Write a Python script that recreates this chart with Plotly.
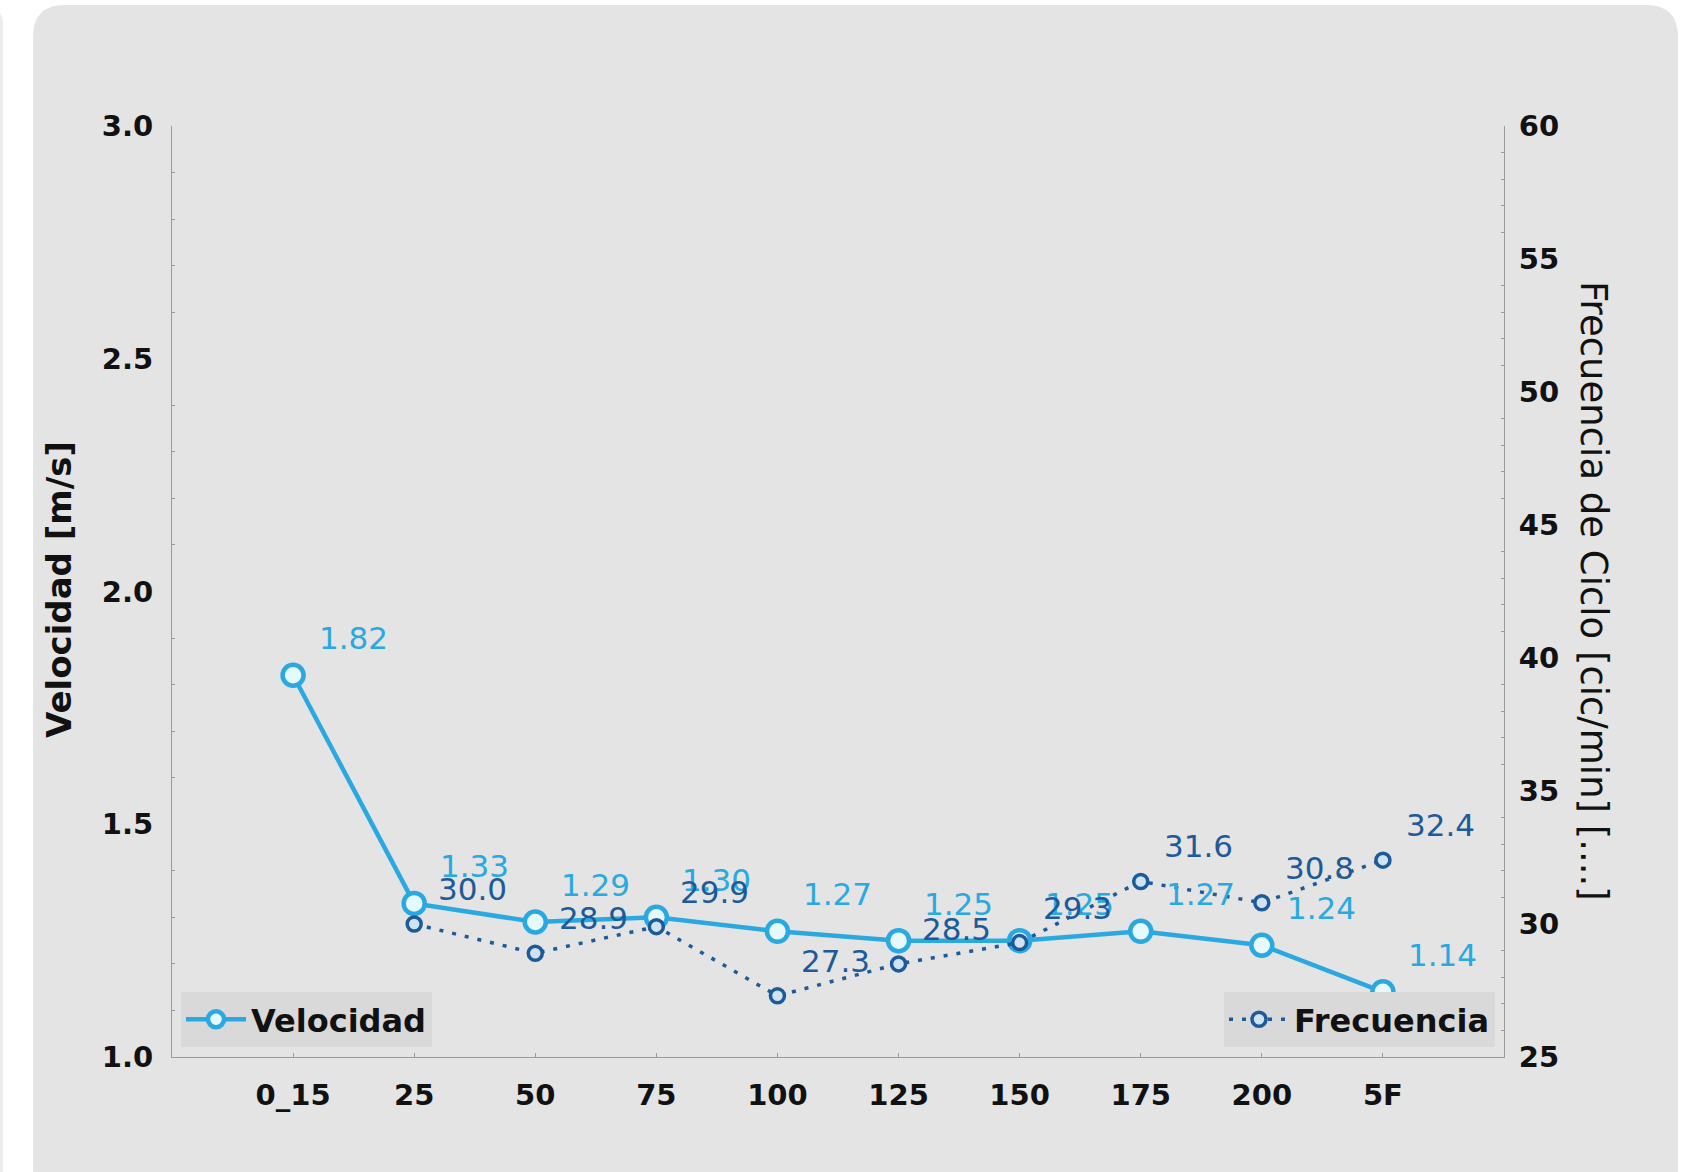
import plotly.graph_objects as go

categories = ["0_15", "25", "50", "75", "100", "125", "150", "175", "200", "5F"]
velocidad = [1.82, 1.33, 1.29, 1.30, 1.27, 1.25, 1.25, 1.27, 1.24, 1.14]
frecuencia = [None, 30.0, 28.9, 29.9, 27.3, 28.5, 29.3, 31.6, 30.8, 32.4]

W, H = 1689, 1172
L, R, T, B = 172, 1504, 126, 1057

def xp(px):
    return (px - L) / (R - L)

def yp(py):
    return (B - py) / (B - T)

def rounded(x0, y0, x1, y1, r):
    pts = [("M", x0 + r, y0), ("L", x1 - r, y0), ("Q", x1, y0, x1, y0 + r),
           ("L", x1, y1 - r), ("Q", x1, y1, x1 - r, y1), ("L", x0 + r, y1),
           ("Q", x0, y1, x0, y1 - r), ("L", x0, y0 + r), ("Q", x0, y0, x0 + r, y0)]
    s = ""
    for p in pts:
        cmd = p[0]
        coords = p[1:]
        parts = []
        for i in range(0, len(coords), 2):
            parts.append(f"{xp(coords[i]):.5f},{yp(coords[i+1]):.5f}")
        s += cmd + " " + " ".join(parts) + " "
    return s + "Z"

VCOL = "#29a9e0"
FCOL = "#1c5a9a"
FONT = "DejaVu Sans"

fig = go.Figure()
fig.add_trace(go.Scatter(
    x=categories, y=velocidad, name="Velocidad", mode="lines+markers",
    line=dict(color=VCOL, width=4.5),
    marker=dict(symbol="circle", size=21, color="#e6f9ff", line=dict(color=VCOL, width=4.5)),
    legend="legend", yaxis="y"))
fig.add_trace(go.Scatter(
    x=categories, y=frecuencia, name="Frecuencia", mode="lines+markers",
    line=dict(color=FCOL, width=3.5, dash="4px,9px"),
    marker=dict(symbol="circle", size=14, color="#cfe3f2", line=dict(color=FCOL, width=3.5)),
    legend="legend2", yaxis="y2", connectgaps=False))

ann = []
for i, v in enumerate(velocidad):
    ann.append(dict(x=i, y=v, xref="x", yref="y", text=f"{v:.2f}", showarrow=False,
                    xshift=60, yshift=37, font=dict(family=FONT, size=31, color=VCOL)))
for i, v in enumerate(frecuencia):
    if v is None:
        continue
    ann.append(dict(x=i, y=v, xref="x", yref="y2", text=f"{v:.1f}", showarrow=False,
                    xshift=58, yshift=35, font=dict(family=FONT, size=31, color=FCOL)))
ann.append(dict(x=xp(59), y=yp(590), xref="paper", yref="paper", text="<b>Velocidad [m/s]</b>",
                textangle=-90, showarrow=False, xanchor="center", yanchor="middle",
                font=dict(family=FONT, size=34, color="#111")))
ann.append(dict(x=xp(1594), y=yp(591), xref="paper", yref="paper",
                text="Frecuencia de Ciclo [cic/min] [....]", xanchor="center", yanchor="middle",
                textangle=90, showarrow=False, font=dict(family=FONT, size=37, color="#111")))

shapes = [
    dict(type="path", path=rounded(33, 5, 1678, 1200, 32), xref="paper", yref="paper",
         fillcolor="#e4e4e4", line=dict(width=0), layer="below"),
    dict(type="path", path=rounded(-40, 5, 3, 1200, 20), xref="paper", yref="paper",
         fillcolor="#ececec", line=dict(width=0), layer="below"),
]

axis_common = dict(showgrid=False, zeroline=False, showline=True, linecolor="#9a9a9a", linewidth=1,
                   tickfont=dict(family=FONT, size=29, color="#111", weight="bold"))

fig.update_layout(
    width=W, height=H,
    margin=dict(l=L, r=W - R, t=T, b=H - B),
    paper_bgcolor="white", plot_bgcolor="rgba(0,0,0,0)",
    showlegend=True,
    xaxis=dict(type="category", categoryorder="array", categoryarray=categories,
               range=[-1, 10], ticks="inside", ticklen=4, tickcolor="#9a9a9a",
               ticklabelstandoff=12, **axis_common),
    yaxis=dict(range=[1, 3], dtick=0.5, tickformat=".1f", ticks="", ticklabelstandoff=12,
               minor=dict(dtick=0.1, ticks="inside", ticklen=3, tickcolor="#9a9a9a"),
               **axis_common),
    yaxis2=dict(range=[25, 60], dtick=5, overlaying="y", side="right", ticks="",
                ticklabelstandoff=8,
                minor=dict(dtick=1, ticks="inside", ticklen=3, tickcolor="#9a9a9a"),
                **axis_common),
    legend=dict(x=xp(181), y=yp(1047), xanchor="left", yanchor="bottom",
                bgcolor="#d9d9d9", borderwidth=0, itemwidth=60,
                font=dict(family=FONT, size=32, color="#111", weight="bold"),
                tracegroupgap=0),
    legend2=dict(x=xp(1495), y=yp(1047), xanchor="right", yanchor="bottom",
                 bgcolor="#d9d9d9", borderwidth=0, itemwidth=60,
                 font=dict(family=FONT, size=32, color="#111", weight="bold")),
    annotations=ann, shapes=shapes,
)

fig.write_html("out.html", config={"displayModeBar": False},
               post_script="document.body.style.margin='0';")
